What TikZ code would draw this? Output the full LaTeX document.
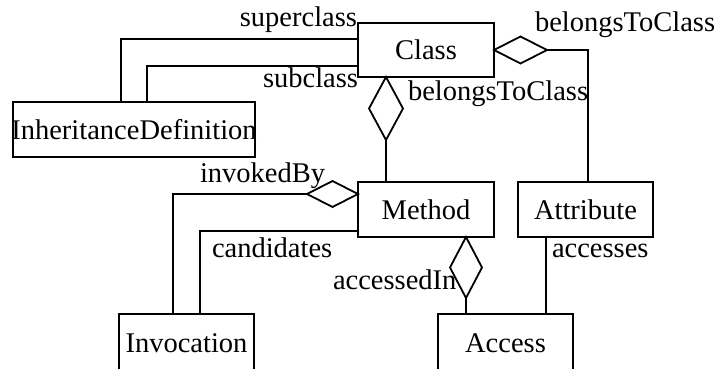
\documentclass[tikz,border=0pt]{standalone}
\usepackage{fontspec}
\setmainfont{Liberation Serif}
\usetikzlibrary{shapes.geometric,calc}

\tikzset{
  uml/.style={line width=1.8pt, line join=miter},
  classbox/.style={draw, uml, rectangle, inner sep=0pt, outer sep=0pt,
    minimum width=#1, minimum height=55pt},
  agg/.style={draw, uml, diamond, inner sep=0pt, outer sep=0pt, fill=white},
  role/.style={inner sep=0pt, outer sep=0pt},
  every node/.style={font=\fontsize{28.5}{34}\selectfont},
}

\begin{document}
\begin{tikzpicture}[x=1pt, y=-1pt]
  \useasboundingbox (0,0) rectangle (720,369);
  \clip (0,0) rectangle (720,369);
  \fill[white] (0,0) rectangle (720,369);

  % classes
  \node[classbox=136pt, minimum height=54pt] (cls)  at (426,50)    {Class};
  \node[classbox=136pt] (met)  at (426,209.5) {Method};
  \node[classbox=135pt] (attr) at (585.5,209.5) {Attribute};
  \node[classbox=242pt] (inh)  at (134,129.5) {\makebox[242pt]{InheritanceDefinition}};
  \node[classbox=135pt, minimum height=58pt] (inv) at (186.5,343) {Invocation};
  \node[classbox=135pt, minimum height=58pt] (acc) at (505.5,343) {Access};

  % aggregation diamonds
  \node[agg, minimum width=53pt, minimum height=27pt, anchor=west] (dca) at (cls.east) {};
  \node[agg, minimum width=34pt, minimum height=63pt, anchor=north] (dcm) at ([xshift=-40pt]cls.south) {};
  \node[agg, minimum width=51pt, minimum height=26pt, anchor=east] (dmi) at ([yshift=15.5pt]met.west) {};
  \node[agg, minimum width=32pt, minimum height=61pt, anchor=north] (dma) at ([xshift=40pt]met.south) {};

  % associations
  \draw[uml] (dca.east) -| ([xshift=2.5pt]attr.north);
  \draw[uml] (dcm.south) -- (dcm.south |- met.north);
  \draw[uml] (dmi.west) -| ([xshift=-13.5pt]inv.north);
  \draw[uml] ([yshift=-21.5pt]met.west) -| ([xshift=13.5pt]inv.north);
  \draw[uml] (dma.south) -- (dma.south |- acc.north);
  \draw[uml] ([xshift=-39.5pt]attr.south) -- ([xshift=-39.5pt]attr.south |- acc.north);
  \draw[uml] ([yshift=11pt]cls.west) -| ([xshift=-13pt]inh.north);
  \draw[uml] ([yshift=-16pt]cls.west) -| ([xshift=13pt]inh.north);

  % role names
  \node[role, anchor=base east] (lsuper) at (357,27)  {superclass};
  \node[role, anchor=base east] (lsub)   at (358,88)  {subclass};
  \node[role, anchor=base west] (lbc1)   at (535,32)  {belongsToClass};
  \node[role, anchor=base west] (lbc2)   at (408,100) {belongsToClass};
  \node[role, anchor=base west] (linv)   at (200,182) {invokedBy};
  \node[role, anchor=base west] (lcand)  at (212,257) {candidates};
  \node[role, anchor=base west] (lacin)  at (333,289) {accessedIn};
  \node[role, anchor=base west] (lacs)   at (552,257) {accesses};
\end{tikzpicture}
\end{document}
